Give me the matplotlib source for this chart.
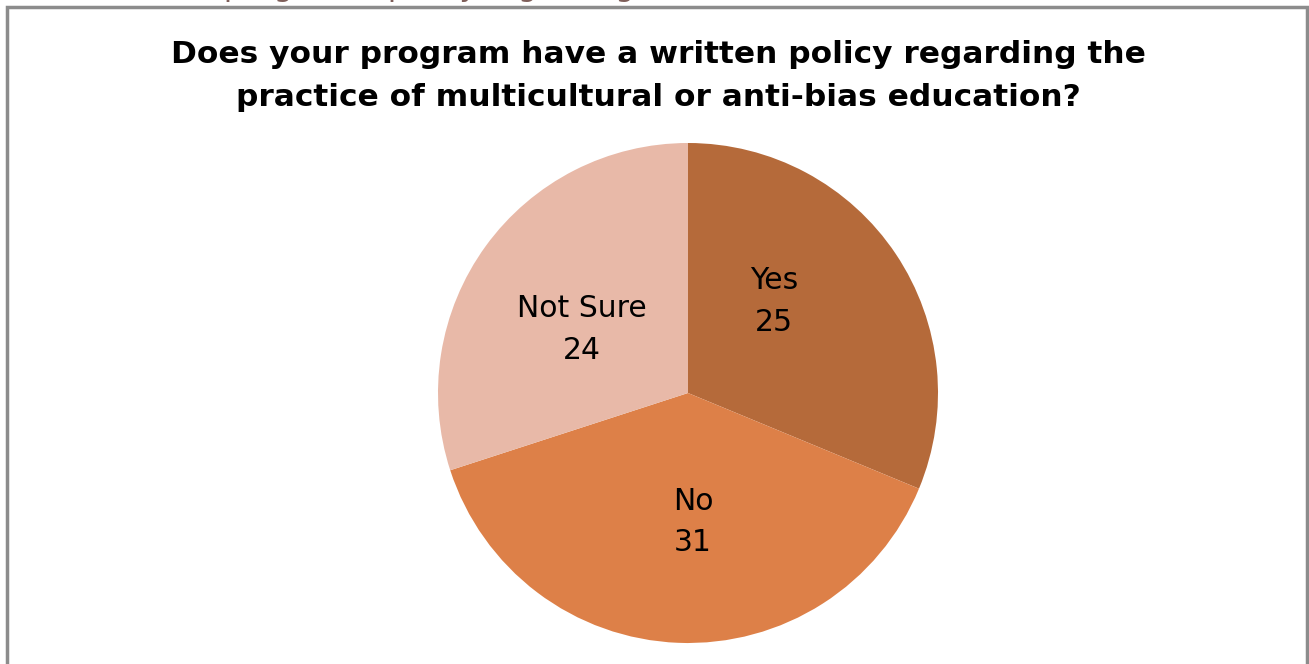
import numpy as np
from matplotlib import pyplot as plt
from matplotlib.patches import Rectangle

categories = ['Yes', 'No', 'Not Sure']
counts = [25, 31, 24]
colors = ['#B56A3A', '#DD8048', '#E8B9A8']
title = 'Does your program have a written policy regarding the\npractice of multicultural or anti-bias education?'

# nudges (pixels) so labels sit where Excel's best fit put them
label_nudge = [(-18, 22), (10, -4), (-5, -10)]

fig = plt.figure(figsize=(13.09, 6.64), dpi=100)
fig.patch.set_facecolor('white')

# slide text cut off above the chart (only descenders show)
fig.text(0.125, 1 + 4 / 664, "the program's policy regarding the", color='#7F5F5A',
         fontsize=22, family='DejaVu Sans', va='baseline', ha='left')

# chart frame
fig.patches.append(Rectangle((7 / 1309, -0.01), 1300 / 1309, 1 - 7 / 664 + 0.01,
                             transform=fig.transFigure, fill=False,
                             edgecolor='#8C8C8C', linewidth=2.5))

fig.text(0.503, 1 - 76 / 664, title, ha='center', va='center', fontsize=22.5,
         fontweight='bold', family='DejaVu Sans', linespacing=1.6)

ax = fig.add_axes([(688 - 250) / 1309, (664 - 393 - 250) / 664, 500 / 1309, 500 / 664])
wedges, _ = ax.pie(counts, colors=colors, startangle=90, counterclock=False,
                   radius=1.0)
ax.set_xlim(-1, 1)
ax.set_ylim(-1, 1)
ax.set_aspect('equal')
ax.axis('off')

for w, cat, n, nd in zip(wedges, categories, counts, label_nudge):
    mid = np.deg2rad((w.theta1 + w.theta2) / 2)
    x, y = 0.5 * np.cos(mid), 0.5 * np.sin(mid)
    ax.annotate(f'{cat}\n{n}', (x, y), xytext=nd, textcoords='offset pixels',
                ha='center', va='center', fontsize=21.5,
                family='DejaVu Sans', linespacing=1.55)

fig.savefig('out.png', dpi=100)
